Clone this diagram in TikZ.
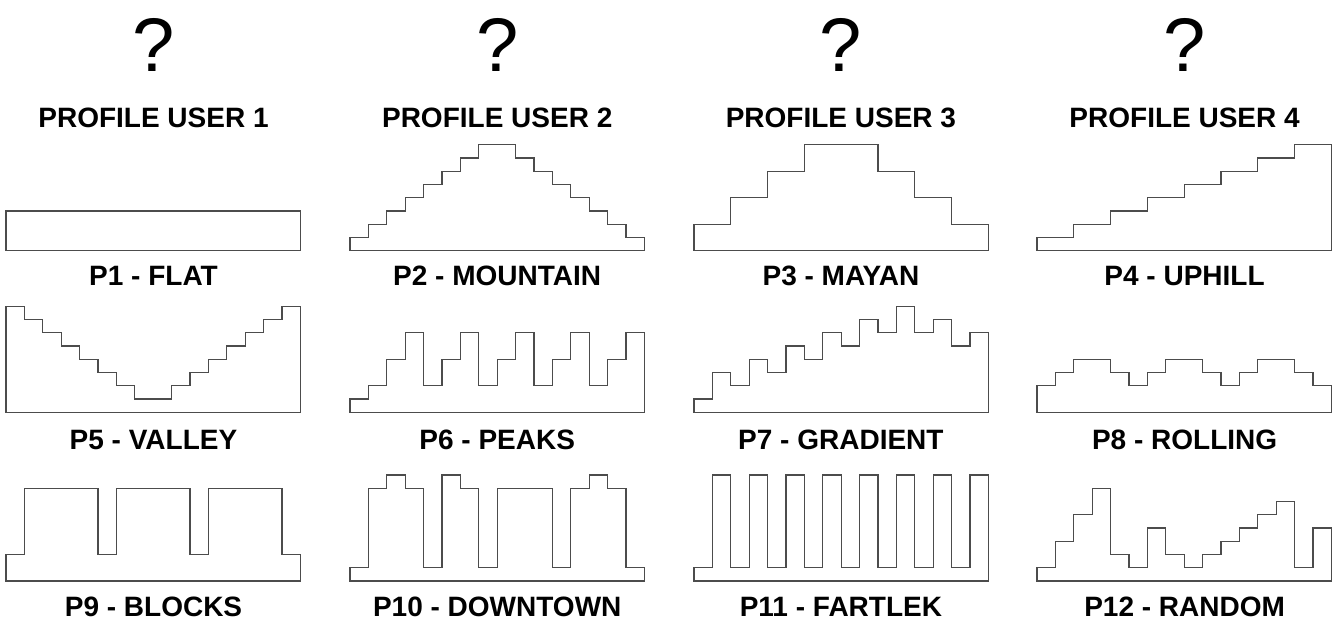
\documentclass[tikz,border=0pt]{standalone}
\usepackage{fontspec}
\setmainfont{Liberation Sans}

\tikzset{
  profline/.style={draw=black!70, line width=1.3pt, line join=miter},
  usertitle/.style={font=\fontsize{28}{30}\selectfont\bfseries},
  proflabel/.style={font=\fontsize{28}{30}\selectfont\bfseries},
  query/.style={font=\fontsize{76}{80}\selectfont},
}

\newcommand{\segw}{18.4}
\newcommand{\steph}{13.25}
% #1 left x, #2 base y, #3 the 16 step levels
\newcommand{\stepprofile}[3]{%
  \draw[profline] (#1,#2)
    \foreach \lev [count=\i from 0] in {#3} {
      -- ({#1+\i*\segw},{#2-\lev*\steph}) -- ({#1+(\i+1)*\segw},{#2-\lev*\steph})
    } -- ({#1+16*\segw},#2) -- cycle;
}

\begin{document}
\begin{tikzpicture}[x=1pt, y=-1pt]
\useasboundingbox (0,0) rectangle (1338,623);

% headings
\foreach \k in {1,...,4} {
  \node[query] (q\k) at ({153.5+343.7*(\k-1)},45) {?};
  \node[usertitle] (user\k) at ({153.5+343.7*(\k-1)},118) {PROFILE USER \k};
}

% row 1
\stepprofile{6}{250.7}{3,3,3,3,3,3,3,3,3,3,3,3,3,3,3,3}
\stepprofile{350}{250.7}{1,2,3,4,5,6,7,8,8,7,6,5,4,3,2,1}
\stepprofile{694}{250.7}{2,2,4,4,6,6,8,8,8,8,6,6,4,4,2,2}
\stepprofile{1037}{250.7}{1,1,2,2,3,3,4,4,5,5,6,6,7,7,8,8}
\node[proflabel] (p1) at (153.5,276) {P1 - FLAT};
\node[proflabel] (p2) at (497.2,276) {P2 - MOUNTAIN};
\node[proflabel] (p3) at (840.9,276) {P3 - MAYAN};
\node[proflabel] (p4) at (1184.6,276) {P4 - UPHILL};

% row 2
\stepprofile{6}{412.3}{8,7,6,5,4,3,2,1,1,2,3,4,5,6,7,8}
\stepprofile{350}{412.3}{1,2,4,6,2,4,6,2,4,6,2,4,6,2,4,6}
\stepprofile{694}{412.3}{1,3,2,4,3,5,4,6,5,7,6,8,6,7,5,6}
\stepprofile{1037}{412.3}{2,3,4,4,3,2,3,4,4,3,2,3,4,4,3,2}
\node[proflabel] (p5) at (153.5,440) {P5 - VALLEY};
\node[proflabel] (p6) at (497.2,440) {P6 - PEAKS};
\node[proflabel] (p7) at (840.9,440) {P7 - GRADIENT};
\node[proflabel] (p8) at (1184.6,440) {P8 - ROLLING};

% row 3
\stepprofile{6}{581}{2,7,7,7,7,2,7,7,7,7,2,7,7,7,7,2}
\stepprofile{350}{581}{1,7,8,7,1,8,7,1,7,7,7,1,7,8,7,1}
\stepprofile{694}{581}{1,8,1,8,1,8,1,8,1,8,1,8,1,8,1,8}
\stepprofile{1037}{581}{1,3,5,7,2,1,4,2,1,2,3,4,5,6,1,4}
\node[proflabel] (p9) at (153.5,607) {P9 - BLOCKS};
\node[proflabel] (p10) at (497.2,607) {P10 - DOWNTOWN};
\node[proflabel] (p11) at (840.9,607) {P11 - FARTLEK};
\node[proflabel] (p12) at (1184.6,607) {P12 - RANDOM};
\end{tikzpicture}
\end{document}
